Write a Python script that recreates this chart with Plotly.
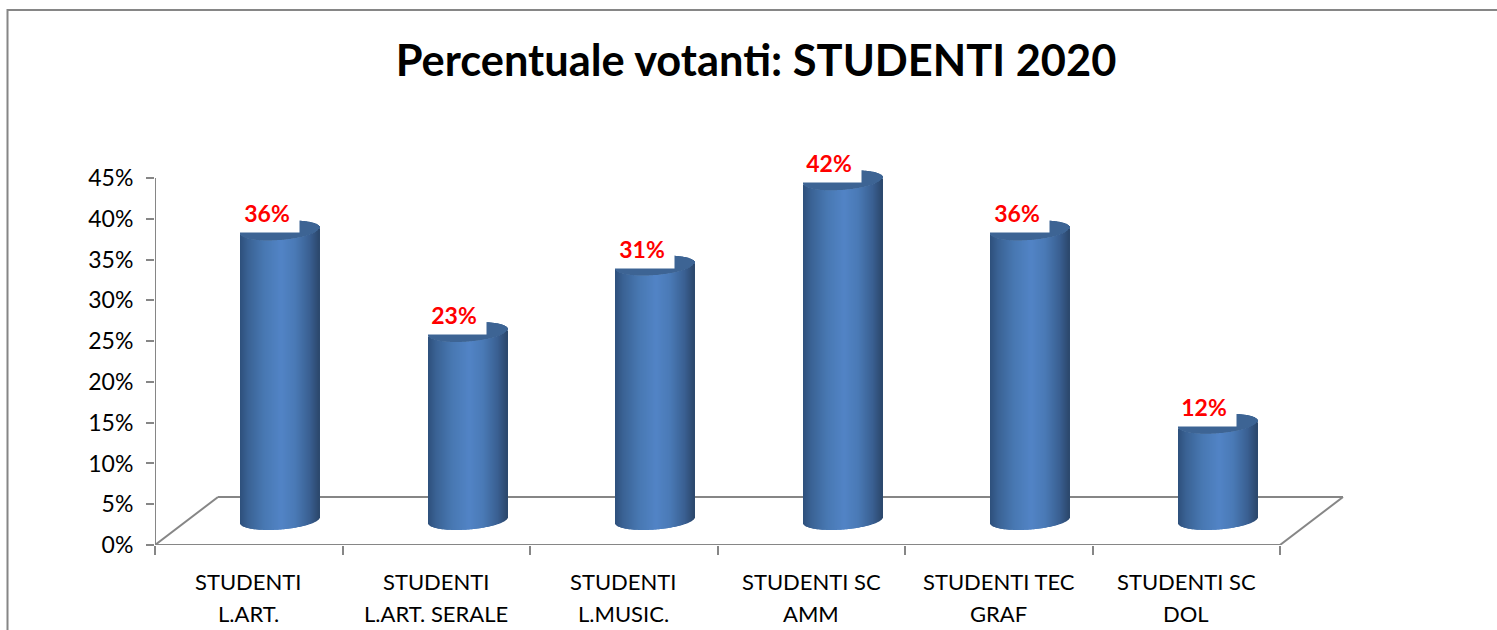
import math
import plotly.graph_objects as go

# ---- data ----
label_line1 = ["STUDENTI", "STUDENTI", "STUDENTI", "STUDENTI SC", "STUDENTI TEC", "STUDENTI SC"]
label_line2 = ["L.ART.", "L.ART. SERALE", "L.MUSIC.", "AMM", "GRAF", "DOL"]
values = [35.5, 23.05, 31.2, 41.65, 35.5, 11.8]
y_ticks = [0, 5, 10, 15, 20, 25, 30, 35, 40, 45]
title_text = "Percentuale votanti: STUDENTI 2020"

categories = [a + " " + b for a, b in zip(label_line1, label_line2)]

W, H = 1497, 630
X0, CAT_W = 155, 187.5     # pixel of the y axis, width of one category
Y0, PX_PER = 545, 367 / 45 # pixel of 0 %, pixels per 1 %
X_END, Y_END = 1352, 160   # plot area limit (room for the 3D depth)
FONT = "Lato"
GREY = "#868686"

def dx(px):  # pixels -> category units
    return px / CAT_W
def dy(px):  # pixels -> percent units
    return px / PX_PER

DEPTH_X, DEPTH_Y = 63, 48
x_range = [-0.5, -0.5 + dx(X_END - X0)]
y_range = [0, dy(Y0 - Y_END)]

# cylinder geometry (pixels)
HALF_W = 39.5
RIM_H = 9.5
TILT = 3.0 / HALF_W
CX_OFF = DEPTH_X / 2
BASE_PX = DEPTH_Y / 2 + 1
N = 79

def lerp(c1, c2, t):
    return tuple(a + (b - a) * t for a, b in zip(c1, c2))

stops = [(0.0, (46, 80, 124)), (0.1, (58, 98, 148)), (0.3, (72, 120, 178)),
         (0.52, (82, 132, 198)), (0.7, (74, 122, 182)), (0.88, (58, 96, 146)), (1.0, (44, 72, 108))]

def body_colour(t):
    for (a, ca), (b, cb) in zip(stops, stops[1:]):
        if t <= b:
            r = lerp(ca, cb, (t - a) / (b - a))
            return "rgb(%d,%d,%d)" % r
    return "rgb(44,72,108)"

fig = go.Figure()

for i in range(N):
    t = (i + 0.5) / N
    d = (t - 0.5) * 2 * HALF_W
    ell = math.sqrt(max(0, 1 - (d / HALF_W) ** 2))
    tilt = -TILT * d
    offset = dx(CX_OFF + d - HALF_W / N - 0.15)
    width = dx(2 * HALF_W / N + 0.3)
    shift = dy(BASE_PX - tilt - RIM_H * ell)
    fig.add_trace(go.Bar(
        x=categories, y=values, base=[shift] * len(values),
        width=width, offset=offset,
        marker=dict(color=body_colour(t), line=dict(width=0)),
        hoverinfo="skip", showlegend=False))
    fig.add_trace(go.Bar(
        x=categories, y=[dy(2 * RIM_H * ell)] * len(values),
        base=[v + shift for v in values],
        width=width, offset=offset,
        marker=dict(color="rgb(61,100,148)", line=dict(width=0)),
        hoverinfo="skip", showlegend=False))

shapes = [
    dict(type="rect", xref="paper", yref="paper", x0=7.5 / W, x1=1.05, y0=-0.1, y1=1 - 10 / H,
         line=dict(color=GREY, width=2), layer="below"),
    dict(type="line", xref="x", yref="y", x0=-0.5, x1=5.5, y0=0, y1=0, line=dict(color=GREY, width=2), layer="below"),
    dict(type="line", xref="x", yref="y", x0=-0.5, x1=-0.5, y0=0, y1=y_ticks[-1], line=dict(color=GREY, width=2), layer="below"),
    dict(type="line", xref="x", yref="y", x0=-0.5, x1=-0.5 + dx(DEPTH_X), y0=0, y1=dy(DEPTH_Y), line=dict(color=GREY, width=2), layer="below"),
    dict(type="line", xref="x", yref="y", x0=-0.5 + dx(DEPTH_X), x1=5.5 + dx(DEPTH_X), y0=dy(DEPTH_Y), y1=dy(DEPTH_Y), line=dict(color=GREY, width=2), layer="below"),
    dict(type="line", xref="x", yref="y", x0=5.5, x1=5.5 + dx(DEPTH_X), y0=0, y1=dy(DEPTH_Y), line=dict(color=GREY, width=2), layer="below"),
]

annotations = []
for i, v in enumerate(values):
    annotations.append(dict(
        x=i + dx(51), y=v + dy(BASE_PX - 3), xref="x", yref="y",
        xanchor="right", yanchor="bottom", showarrow=False,
        text="<b>%d%%</b>" % round(v + 0.01), width=64, height=38, bgcolor="white", borderpad=0,
        align="center", font=dict(family=FONT, size=23, color="#ff0000")))
    annotations.append(dict(
        x=i, y=1 - 581 / H, xref="x", yref="paper", xanchor="center", yanchor="middle",
        showarrow=False, text=label_line1[i], font=dict(family=FONT, size=22, color="black")))
    annotations.append(dict(
        x=i, y=1 - 613 / H, xref="x", yref="paper", xanchor="center", yanchor="middle",
        showarrow=False, text=label_line2[i], font=dict(family=FONT, size=22, color="black")))

fig.update_layout(
    width=W, height=H, margin=dict(l=0, r=0, t=0, b=0), autosize=False,
    paper_bgcolor="white", plot_bgcolor="rgba(0,0,0,0)", barmode="overlay",
    showlegend=False, shapes=shapes, annotations=annotations,
    title=dict(text="<b>%s</b>" % title_text, x=756 / W, xanchor="center", xref="paper",
               y=1 - 61 / H, yanchor="middle", yref="paper",
               font=dict(family=FONT, size=43.4, color="black")),
    xaxis=dict(type="category", categoryorder="array", categoryarray=categories, automargin=False,
               domain=[X0 / W, X_END / W], range=x_range, showgrid=False, zeroline=False,
               showline=False, showticklabels=False, ticks="outside", tickson="boundaries",
               ticklen=9, tickwidth=2, tickcolor=GREY),
    yaxis=dict(domain=[1 - Y0 / H, 1 - Y_END / H], range=y_range, showgrid=False, zeroline=False, automargin=False,
               showline=False, tickmode="array", tickvals=y_ticks, ticktext=["%d%%" % t for t in y_ticks],
               ticks="outside", ticklen=8, tickwidth=2, tickcolor=GREY, ticklabelstandoff=8,
               tickfont=dict(family=FONT, size=23, color="black")),
)

fig.write_html("out.html", config=dict(displayModeBar=False),
               post_script="document.body.style.margin='0';document.documentElement.style.overflow='hidden';")
